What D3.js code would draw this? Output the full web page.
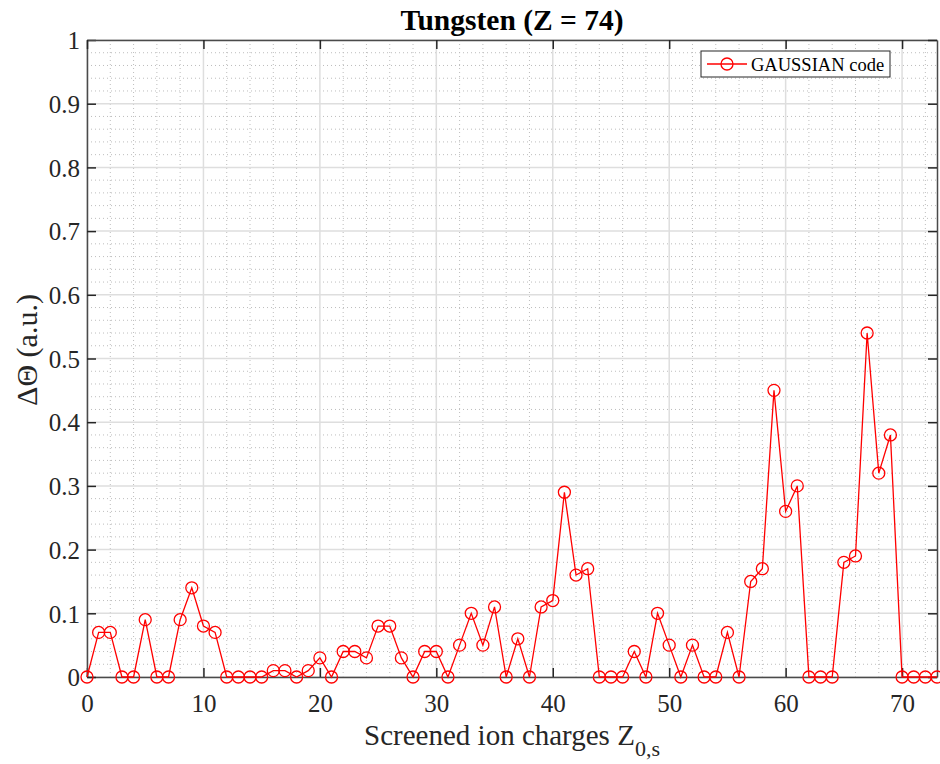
<!DOCTYPE html>
<html lang="en">
<head>
    <meta charset="UTF-8">
    <title>Tungsten (Z = 74)</title>
    <style>
        body { margin: 0; background: #fff; }
    </style>
</head>
<body>
    <script src="https://cdn.jsdelivr.net/npm/d3@7"></script>
    <script type="text/javascript">
        // screened ion charge Z0,s and the Delta Theta values
        var charges = d3.range(0, 74);
        var deltaTheta = [0, 0.07, 0.07, 0, 0, 0.09, 0, 0, 0.09, 0.14,
                          0.08, 0.07, 0, 0, 0, 0, 0.01, 0.01, 0, 0.01,
                          0.03, 0, 0.04, 0.04, 0.03, 0.08, 0.08, 0.03, 0, 0.04,
                          0.04, 0, 0.05, 0.10, 0.05, 0.11, 0, 0.06, 0, 0.11,
                          0.12, 0.29, 0.16, 0.17, 0, 0, 0, 0.04, 0, 0.10,
                          0.05, 0, 0.05, 0, 0, 0.07, 0, 0.15, 0.17, 0.45,
                          0.26, 0.30, 0, 0, 0, 0.18, 0.19, 0.54, 0.32, 0.38,
                          0, 0, 0, 0];
        var xTicks = [0, 10, 20, 30, 40, 50, 60, 70];
        var yTicks = [0, 0.1, 0.2, 0.3, 0.4, 0.5, 0.6, 0.7, 0.8, 0.9, 1];
        var seriesName = "GAUSSIAN code";

        var serif = "'Liberation Serif', 'DejaVu Serif', serif";
        var w = 940, h = 764;
        // note: "top" is taken by window.top, so plot edges get their own names
        var plotL = 87, plotR = 937, plotT = 40, plotB = 677;

        var svg = d3.select("body").append("svg").attr("width", w).attr("height", h);

        var x = d3.scaleLinear().domain([0, 73]).range([plotL, plotR]);
        var y = d3.scaleLinear().domain([0, 1]).range([plotB, plotT]);

        // minor grid (dotted)
        var xMinor = d3.range(0, 74, 2).filter(function(d){ return d % 10 != 0; });
        var yMinor = d3.range(0, 51).map(function(i){ return i * 0.02; })
                       .filter(function(d, i){ return i % 5 != 0; });

        svg.append("g").selectAll("line").data(xMinor).enter().append("line")
            .attr("x1", function(d){ return x(d); }).attr("x2", function(d){ return x(d); })
            .attr("y1", plotT).attr("y2", plotB)
            .attr("stroke", "#bdbdbd").attr("stroke-width", 1).attr("stroke-dasharray", "1,3");
        svg.append("g").selectAll("line").data(yMinor).enter().append("line")
            .attr("y1", function(d){ return y(d); }).attr("y2", function(d){ return y(d); })
            .attr("x1", plotL).attr("x2", plotR)
            .attr("stroke", "#bdbdbd").attr("stroke-width", 1).attr("stroke-dasharray", "1,3");

        // major grid
        svg.append("g").selectAll("line").data(xTicks).enter().append("line")
            .attr("x1", function(d){ return x(d); }).attr("x2", function(d){ return x(d); })
            .attr("y1", plotT).attr("y2", plotB)
            .attr("stroke", "#dedede").attr("stroke-width", 1.5);
        svg.append("g").selectAll("line").data(yTicks).enter().append("line")
            .attr("y1", function(d){ return y(d); }).attr("y2", function(d){ return y(d); })
            .attr("x1", plotL).attr("x2", plotR)
            .attr("stroke", "#dedede").attr("stroke-width", 1.5);

        // axes, ticks pointing inward
        var tickLen = 9;
        var xAxis = svg.append("g").attr("transform", "translate(0," + plotB + ")")
            .call(d3.axisBottom(x).tickValues(xTicks).tickSizeInner(-tickLen).tickSizeOuter(0).tickPadding(17));
        var yAxis = svg.append("g").attr("transform", "translate(" + plotL + ",0)")
            .call(d3.axisLeft(y).tickValues(yTicks).tickSizeInner(-tickLen).tickSizeOuter(0).tickPadding(7)
                .tickFormat(function(d){ return d3.format("")(+d.toFixed(1)); }));
        svg.append("g").attr("transform", "translate(0," + plotT + ")")
            .call(d3.axisTop(x).tickValues(xTicks).tickSizeInner(-tickLen).tickSizeOuter(0).tickFormat(""));
        svg.append("g").attr("transform", "translate(" + plotR + ",0)")
            .call(d3.axisRight(y).tickValues(yTicks).tickSizeInner(-tickLen).tickSizeOuter(0).tickFormat(""));

        svg.selectAll(".domain").attr("stroke", "#4a4a4a").attr("stroke-width", 1.5);
        svg.selectAll(".tick line").attr("stroke", "#262626").attr("stroke-width", 1.5);
        svg.selectAll(".tick text")
            .style("font-family", serif).style("font-size", "25px").style("fill", "#262626");
        xAxis.selectAll(".tick text").attr("dy", "0.71em");
        yAxis.selectAll(".tick text").attr("dy", "0.35em");

        // series
        var pts = charges.map(function(c, i){ return [c, deltaTheta[i]]; });
        var line = d3.line().x(function(d){ return x(d[0]); }).y(function(d){ return y(d[1]); });

        var plot = svg.append("g");
        plot.append("path").datum(pts).attr("d", line)
            .attr("fill", "none").attr("stroke", "#ff0000").attr("stroke-width", 1.3);
        plot.selectAll("circle").data(pts).enter().append("circle")
            .attr("cx", function(d){ return x(d[0]); })
            .attr("cy", function(d){ return y(d[1]); })
            .attr("r", 6)
            .attr("fill", "none").attr("stroke", "#ff0000").attr("stroke-width", 1.3);

        // title & labels
        svg.append("text").attr("x", (plotL + plotR) / 2).attr("y", 30)
            .attr("text-anchor", "middle")
            .style("font-family", serif).style("font-size", "29.5px").style("font-weight", "bold")
            .style("fill", "#000").text("Tungsten (Z = 74)");

        var xl = svg.append("text").attr("x", (plotL + plotR) / 2).attr("y", 745)
            .attr("text-anchor", "middle")
            .style("font-family", serif).style("font-size", "29px").style("fill", "#262626");
        xl.append("tspan").text("Screened ion charges Z");
        xl.append("tspan").attr("dy", 11).style("font-size", "22px").text("0,s");

        svg.append("text").attr("transform", "translate(37,350) rotate(-90)")
            .attr("text-anchor", "middle")
            .style("font-family", serif).style("font-size", "30px").style("fill", "#262626")
            .text("\u0394\u0398 (a.u.)");

        // legend
        var lg = svg.append("g").attr("transform", "translate(701,51)");
        lg.append("rect").attr("width", 189).attr("height", 26)
            .attr("fill", "#fff").attr("stroke", "#262626").attr("stroke-width", 1);
        lg.append("line").attr("x1", 6).attr("x2", 46).attr("y1", 13).attr("y2", 13)
            .attr("stroke", "#ff0000").attr("stroke-width", 1.3);
        lg.append("circle").attr("cx", 26).attr("cy", 13).attr("r", 6)
            .attr("fill", "none").attr("stroke", "#ff0000").attr("stroke-width", 1.3);
        lg.append("text").attr("x", 50).attr("y", 19.5)
            .style("font-family", serif).style("font-size", "18.5px")
            .style("fill", "#000").text(seriesName);
    </script>
</body>
</html>
